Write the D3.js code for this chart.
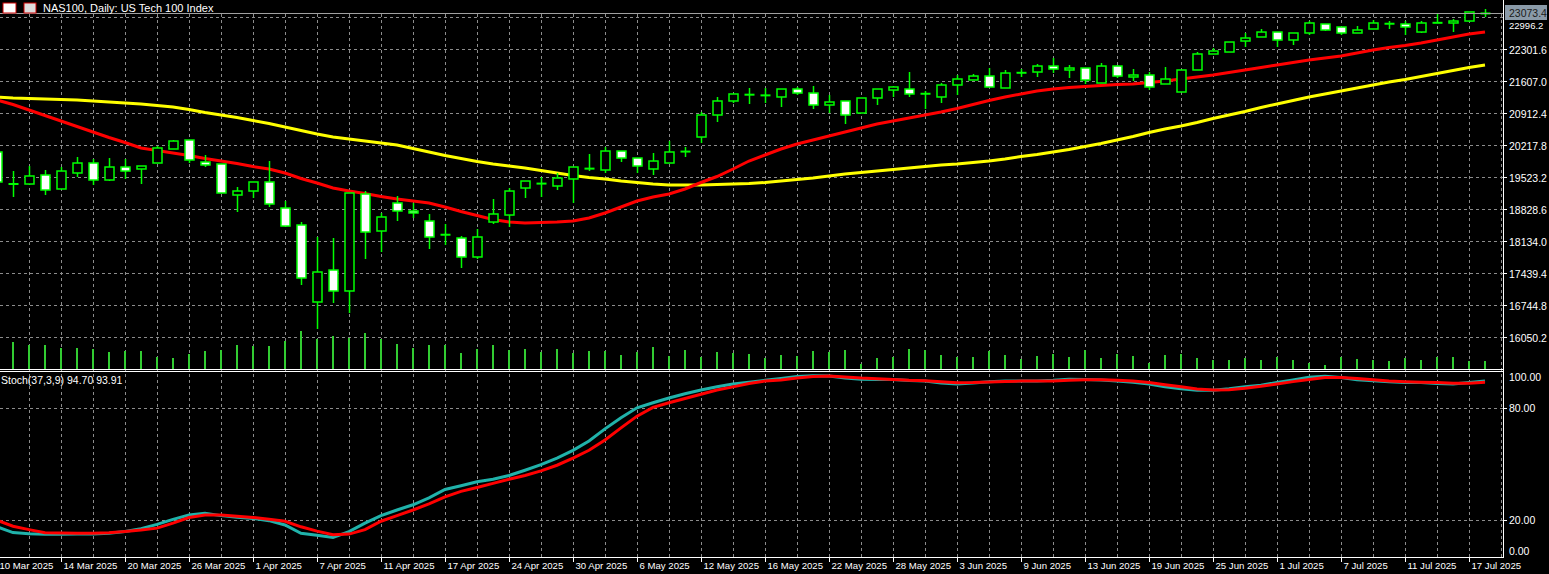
<!DOCTYPE html>
<html><head><meta charset="utf-8">
<script src="https://cdn.jsdelivr.net/npm/d3@7"></script>
<style>html,body{margin:0;padding:0;background:#000;overflow:hidden}text{font-family:"Liberation Sans",Arial,sans-serif}</style>
</head><body><svg id="c" width="1549" height="574"></svg>
<script>
const title = "NAS100, Daily:  US Tech 100 Index";
const stochLabel = "Stoch(37,3,9) 94.70 93.91";
const lastPrice = 23073.4;
const priceTicks = [22996.2,22301.6,21607.0,20912.4,20217.8,19523.2,18828.6,18134.0,17439.4,16744.8,16050.2];
const stochTicks = [100,80,20,0];
const dateLabels = ["10 Mar 2025","14 Mar 2025","20 Mar 2025","26 Mar 2025","1 Apr 2025","7 Apr 2025","11 Apr 2025","17 Apr 2025","24 Apr 2025","30 Apr 2025","6 May 2025","12 May 2025","16 May 2025","22 May 2025","28 May 2025","3 Jun 2025","9 Jun 2025","13 Jun 2025","19 Jun 2025","25 Jun 2025","1 Jul 2025","7 Jul 2025","11 Jul 2025","17 Jul 2025"];
const open  = [20066,19371,19371,19566,19263,19610,19827,19458,19740,19697,19827,20131,20326,19849,19805,19132,19219,19415,18850,18481,16810,17504,17049,19154,18351,18959,18785,18568,18264,18199,17787,18546,18698,19284,19371,19328,19480,19697,19675,20087,19935,19697,19827,20066,20391,20869,21173,21303,21290,21260,21433,21346,21086,21173,20912,21238,21411,21433,21325,21260,21520,21629,21715,21455,21780,21802,21932,21846,21889,21563,21932,21694,21737,21542,21368,21846,22193,22236,22475,22562,22670,22497,22649,22844,22779,22649,22736,22844,22844,22670,22866,22866,22909,23073];
const high  = [20109,19653,19762,19675,19740,19957,19914,19935,19914,19762,20196,20326,20326,20001,19805,19306,19415,19870,19002,18546,18221,18199,19176,19219,18742,19111,18959,18720,18503,18242,18394,19046,19284,19436,19523,19610,19740,20022,20174,20087,19935,20044,20304,20174,20934,21260,21325,21455,21455,21433,21477,21498,21303,21173,21238,21433,21498,21802,21390,21563,21737,21759,21889,21846,21867,21976,22106,21954,21889,21998,21950,21867,21802,21911,21846,22236,22323,22453,22649,22736,22670,22649,22909,22844,22779,22801,22931,22909,22909,22909,23061,22953,23105,23170];
const low   = [19349,19089,19349,19132,19263,19523,19349,19436,19480,19371,19827,20131,19827,19740,19176,18763,19067,18872,18438,17179,16224,16788,16571,17743,17895,18568,18633,17960,18047,17548,17743,18503,18438,19067,19089,19241,18959,19653,19610,19849,19610,19566,19827,19957,20261,20717,21129,21108,21129,21042,21303,20999,20912,20673,20912,21086,21260,21260,20999,21129,21303,21629,21477,21455,21694,21694,21780,21672,21542,21563,21672,21607,21411,21542,21368,21846,22193,22236,22345,22562,22345,22388,22605,22692,22605,22649,22736,22736,22605,22649,22866,22670,22887,22996];
const close = [19415,19371,19545,19241,19653,19827,19458,19740,19653,19762,20153,20304,19892,19784,19176,19219,19415,18937,18459,17331,17461,17049,19176,18329,18655,18785,18742,18221,18270,17787,18221,18720,19219,19436,19380,19501,19740,19705,20087,19935,19762,19870,20066,20075,20869,21173,21325,21310,21295,21433,21346,21086,21151,20869,21238,21433,21477,21325,21330,21520,21650,21715,21477,21780,21785,21932,21867,21889,21629,21932,21715,21737,21477,21650,21846,22193,22258,22453,22540,22670,22497,22649,22866,22714,22649,22714,22866,22850,22779,22866,22870,22909,23105,23073.4];
const volume = [25,27,24,24,21,21,20,17,18,18,12,11,15,18,19,24,23,23,28,38,30,33,31,36,30,25,21,24,24,16,20,24,19,20,17,20,16,18,18,14,17,22,13,19,12,17,16,15,11,14,13,18,17,19,5,11,12,20,19,14,12,12,18,14,10,13,15,12,19,11,15,13,6,14,15,11,9,9,11,9,12,9,6,4,12,10,9,8,11,9,12,12,8,8];
const maFast = [21194,21097,20977,20858,20738,20619,20500,20380,20272,20153,20098,20044,19990,19925,19870,19816,19751,19697,19610,19490,19393,19284,19219,19165,19100,19046,19002,18959,18872,18774,18687,18601,18546,18525,18535,18546,18568,18633,18742,18872,19002,19089,19154,19263,19404,19534,19697,19870,20001,20131,20239,20326,20413,20500,20587,20673,20738,20804,20869,20934,21010,21097,21183,21260,21325,21390,21433,21466,21488,21509,21531,21542,21574,21607,21651,21694,21737,21791,21846,21900,21954,22008,22062,22106,22149,22214,22280,22334,22377,22431,22497,22562,22627,22670];
const maSlow = [21260,21238,21227,21216,21205,21194,21173,21151,21129,21108,21075,21042,20988,20923,20869,20815,20749,20684,20608,20532,20456,20391,20348,20304,20261,20218,20142,20066,19990,19925,19860,19805,19762,19718,19664,19610,19556,19512,19480,19436,19404,19371,19349,19349,19349,19360,19371,19382,19404,19436,19469,19501,19545,19588,19621,19653,19686,19718,19751,19784,19805,19838,19870,19914,19968,20012,20066,20120,20185,20250,20326,20402,20489,20565,20630,20706,20793,20869,20945,21032,21108,21183,21260,21325,21390,21455,21520,21585,21639,21704,21770,21835,21900,21954];
const stochMain = [16.5,13.4,12.8,12.5,12.5,12.6,12.6,13,14,15.5,17.8,20.5,22.8,23.7,22.5,21.6,21,19.8,17.5,13,12,10.8,13.9,18.5,22.5,25.5,28.3,32,36.5,38.5,40.6,42,44,46.8,49.8,53.3,57.5,62.5,69,75,80.3,83,85.5,87.8,89.8,91.6,93,94,95,96,97,97.4,97.3,96.3,95.6,95.4,95.5,94.9,94.6,93.5,93,93.6,94.3,94.6,94.6,94.6,95,95.6,95.5,95.2,94.6,94,93,91.6,90.5,89.7,89.7,90.5,91.5,92.4,93.8,95.2,96.7,97.2,96.5,95.3,94.8,94.3,93.8,93.8,93.3,93,93.8,94.7];
const stochSignal = [20,16.8,15,13.3,13.2,13,13,13.3,14,14.8,15.8,18.5,21.5,22.8,22.8,22.2,21.5,20.6,19.5,16.5,14.2,12.2,12.6,15,19.5,22.5,25.5,28.8,32.5,35.5,37.6,39.8,42,44,46.5,49.5,53.3,57.5,63,69.5,75.8,80.5,83,85.3,87.5,89.8,91.5,93.3,94.6,95.2,96.2,97,97.3,96.8,96.2,95.8,95.5,95,94.8,94.2,93.7,93.8,94.1,94.4,94.6,94.6,94.7,95,95.3,95.3,95,94.6,93.8,92.6,91.5,90.3,89.8,90,90.8,91.8,93,94.3,95.5,96.5,96.5,96,95.3,94.7,94.3,94,93.8,93.4,93.5,93.91];

const svg = d3.select("#c");
const W = 1549, plotR = 1503;
const grid = "#8c8c8c";
const x = d3.scaleLinear().domain([0, 93]).range([-3, 1485]);
const y = d3.scaleLinear().domain([22301.6, 16050.2]).range([49, 337]);
const yv = d3.scaleLinear().domain([0, 40]).range([369, 329]);
const ys = d3.scaleLinear().domain([0, 100]).range([557.6, 371]);
const idx = d3.range(open.length);

const vg = d3.range(29, plotR, 32);
svg.append("g").selectAll("line").data(vg).join("line")
  .attr("x1", d => d + 0.5).attr("x2", d => d + 0.5).attr("y1", 14).attr("y2", 557)
  .attr("stroke", grid).attr("stroke-dasharray", "3,3").attr("stroke-width", 1);
svg.append("g").selectAll("line").data(priceTicks).join("line")
  .attr("x1", 0).attr("x2", plotR).attr("y1", d => Math.round(y(d)) + 0.5).attr("y2", d => Math.round(y(d)) + 0.5)
  .attr("stroke", grid).attr("stroke-dasharray", "3,3");
svg.append("g").selectAll("line").data([80, 20]).join("line")
  .attr("x1", 0).attr("x2", plotR).attr("y1", d => Math.round(ys(d)) + 0.5).attr("y2", d => Math.round(ys(d)) + 0.5)
  .attr("stroke", grid).attr("stroke-dasharray", "3,3");

svg.append("g").selectAll("line").data(idx).join("line")
  .attr("x1", i => x(i)).attr("x2", i => x(i)).attr("y1", yv(0)).attr("y2", i => yv(volume[i]))
  .attr("stroke", "#32cd32").attr("stroke-width", 2);

const lineMain = arr => d3.line().x((d, i) => x(i)).y(d => y(d))(arr);
svg.append("path").attr("d", lineMain(maSlow)).attr("fill", "none").attr("stroke", "#ffff00").attr("stroke-width", 3);
svg.append("path").attr("d", lineMain(maFast)).attr("fill", "none").attr("stroke", "#ff0000").attr("stroke-width", 3);

const cg = svg.append("g");
idx.forEach(i => {
  const cx = Math.round(x(i)) + 0.5;
  const o = y(open[i]), c = y(close[i]);
  const top = Math.min(o, c), bot = Math.max(o, c);
  cg.append("line").attr("x1", cx).attr("x2", cx).attr("y1", y(high[i])).attr("y2", y(low[i]))
    .attr("stroke", "#00ff00").attr("stroke-width", 1.5);
  if (bot - top < 1.5) {
    cg.append("line").attr("x1", cx - 5).attr("x2", cx + 5).attr("y1", top).attr("y2", top)
      .attr("stroke", "#00ff00").attr("stroke-width", 2);
  } else {
    cg.append("rect").attr("x", cx - 4.5).attr("width", 9).attr("y", top).attr("height", bot - top)
      .attr("fill", close[i] >= open[i] ? "#000" : "#fff").attr("stroke", "#00ff00").attr("stroke-width", 1.5);
  }
});

const lineS = arr => d3.line().x((d, i) => x(i)).y(d => ys(d))(arr);
svg.append("path").attr("d", lineS(stochMain)).attr("fill", "none").attr("stroke", "#20b2aa").attr("stroke-width", 3);
svg.append("path").attr("d", lineS(stochSignal)).attr("fill", "none").attr("stroke", "#ff0000").attr("stroke-width", 3);

svg.append("line").attr("x1", 0).attr("x2", plotR).attr("y1", 13.5).attr("y2", 13.5).attr("stroke", "#a0a0a0");

svg.append("rect").attr("x", plotR).attr("y", 0).attr("width", W - plotR).attr("height", 574).attr("fill", "#000");
svg.append("rect").attr("x", 0).attr("y", 558).attr("width", W).attr("height", 16).attr("fill", "#000");

svg.append("line").attr("x1", plotR + 0.5).attr("x2", plotR + 0.5).attr("y1", 0).attr("y2", 558).attr("stroke", "#fff");
svg.append("line").attr("x1", 0).attr("x2", plotR).attr("y1", 369.5).attr("y2", 369.5).attr("stroke", "#fff");
svg.append("line").attr("x1", 0).attr("x2", plotR).attr("y1", 371.5).attr("y2", 371.5).attr("stroke", "#fff");
svg.append("line").attr("x1", 0).attr("x2", plotR + 1).attr("y1", 557.5).attr("y2", 557.5).attr("stroke", "#fff");

const pa = svg.append("g");
priceTicks.slice(1).forEach(p => {
  const yy = Math.round(y(p)) + 0.5;
  pa.append("line").attr("x1", plotR).attr("x2", plotR + 4).attr("y1", yy).attr("y2", yy).attr("stroke", "#fff");
  pa.append("text").attr("x", plotR + 6).attr("y", yy + 4).attr("fill", "#fff").attr("font-size", 10.5).text(d3.format(".1f")(p));
});
pa.append("text").attr("x", plotR + 6).attr("y", 29).attr("fill", "#fff").attr("font-size", 9.5).text(d3.format(".1f")(priceTicks[0]));
pa.append("rect").attr("x", plotR + 2).attr("y", 5).attr("width", 42).attr("height", 15).attr("fill", "#8a9aa8");
pa.append("text").attr("x", plotR + 6).attr("y", 16.5).attr("fill", "#1a1a1a").attr("font-size", 10.5).text(d3.format(".1f")(lastPrice));

const sy = {100: 380.5, 80: 411.5, 20: 523.5, 0: 554.5};
stochTicks.forEach(v => {
  const yy = Math.round(ys(v)) + 0.5;
  if (v === 80 || v === 20) pa.append("line").attr("x1", plotR).attr("x2", plotR + 4).attr("y1", yy).attr("y2", yy).attr("stroke", "#fff");
  pa.append("text").attr("x", plotR + 6).attr("y", sy[v]).attr("fill", "#fff").attr("font-size", 10.5).text(d3.format(".2f")(v));
});

const ta = svg.append("g");
dateLabels.forEach((t, k) => {
  const xx = Math.round(x(k * 4)) + 0.5;
  ta.append("line").attr("x1", xx).attr("x2", xx).attr("y1", 557).attr("y2", 562).attr("stroke", "#fff");
  ta.append("text").attr("x", xx + 2).attr("y", 569).attr("fill", "#fff").attr("font-size", 9.6).text(t);
});

svg.append("rect").attr("x", 3).attr("y", 3).attr("width", 13).attr("height", 10).attr("fill", "#fff").attr("stroke", "#c00");
svg.append("rect").attr("x", 24).attr("y", 3).attr("width", 12).attr("height", 10).attr("fill", "#ddd").attr("stroke", "#c00");
svg.append("text").attr("x", 43).attr("y", 12).attr("fill", "#fff").attr("font-size", 11).text(title);
svg.append("text").attr("x", 1).attr("y", 384).attr("fill", "#fff").attr("font-size", 10.5).text(stochLabel);
</script></body></html>
